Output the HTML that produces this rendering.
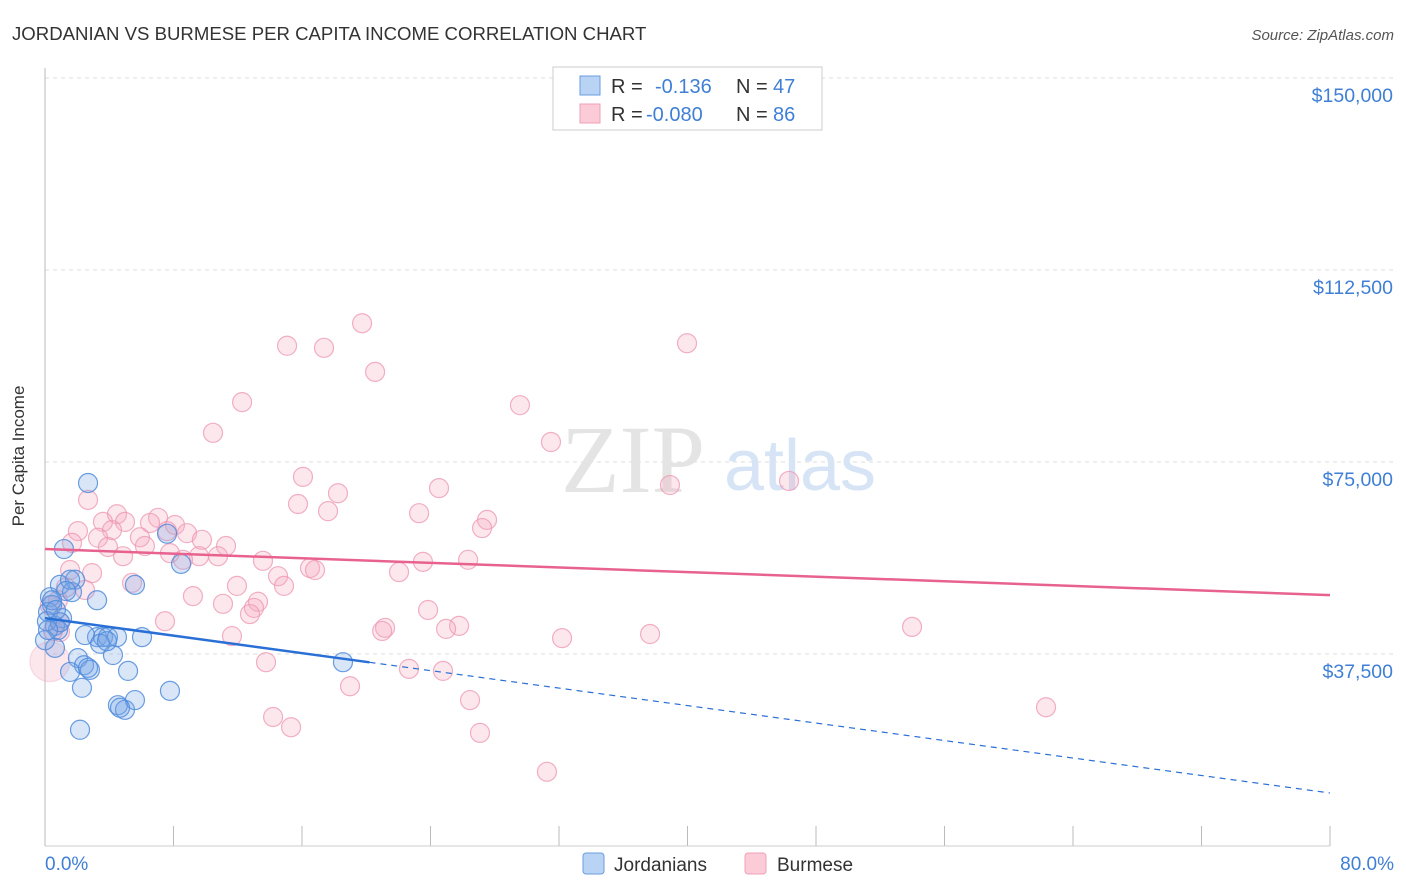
<!DOCTYPE html>
<html><head><meta charset="utf-8"><style>
body{margin:0;background:#fff;font-family:"Liberation Sans",sans-serif;}
svg{display:block}
</style></head><body>
<svg width="1406" height="892" xmlns="http://www.w3.org/2000/svg">
<text x="12" y="40" font-size="18.6" fill="#333">JORDANIAN VS BURMESE PER CAPITA INCOME CORRELATION CHART</text>
<text x="1394" y="40" font-size="15" fill="#555" text-anchor="end" font-style="italic">Source: ZipAtlas.com</text>
<g id="grid"></g>
<text x="633" y="492" font-size="96" fill="#e4e4e4" font-family="Liberation Serif,serif" text-anchor="middle">ZIP</text>
<text x="800" y="490" font-size="72" fill="#d6e4f5" text-anchor="middle">atlas</text>
<line x1="45" y1="68" x2="45" y2="846" stroke="#bbb"/>
<line x1="45" y1="846" x2="1330" y2="846" stroke="#ccc"/>
<g id="points"></g>
<g id="trends"></g>
<text x="24" y="456" font-size="17" fill="#333" text-anchor="middle" transform="rotate(-90 24 456)">Per Capita Income</text>
<text x="45" y="870" font-size="19" fill="#3f7fd6">0.0%</text>
<text x="1394" y="870" font-size="19" fill="#3f7fd6" text-anchor="end">80.0%</text>
<g>
<rect x="553" y="67" width="269" height="63" fill="#fff" stroke="#ccc"/>
<rect x="580" y="76" width="20" height="19" fill="#b9d3f5" stroke="#6a9de0"/>
<rect x="580" y="104" width="20" height="19" fill="#fbcbd8" stroke="#f0a0b8"/>
<text x="611" y="93" font-size="20" fill="#333">R =</text>
<text x="655" y="93" font-size="20" fill="#3f7fd6">-0.136</text>
<text x="736" y="93" font-size="20" fill="#333">N =</text>
<text x="773" y="93" font-size="20" fill="#3f7fd6">47</text>
<text x="611" y="121" font-size="20" fill="#333">R =</text>
<text x="646" y="121" font-size="20" fill="#3f7fd6">-0.080</text>
<text x="736" y="121" font-size="20" fill="#333">N =</text>
<text x="773" y="121" font-size="20" fill="#3f7fd6">86</text>
</g>
<g>
<rect x="583" y="853" width="21" height="21" rx="3" fill="#b9d3f5" stroke="#6a9de0"/>
<text x="614" y="871" font-size="19" fill="#333">Jordanians</text>
<rect x="745" y="853" width="21" height="21" rx="3" fill="#fbcbd8" stroke="#f0a0b8"/>
<text x="777" y="871" font-size="19" fill="#333">Burmese</text>
</g>
</svg>
<script>
const yTicks=[37500,75000,112500,150000];
const yTickLabels=["$37,500","$75,000","$112,500","$150,000"];
const xTicks=[0,8,16,24,32,40,48,56,64,72,80];
const blueX=[2.68,1.18,8.47,7.60,0.93,1.87,5.60,3.24,1.68,0.31,0.44,0.19,1.06,0.62,0.81,3.24,2.49,3.61,3.92,4.48,6.04,4.23,0.62,2.05,2.43,2.80,1.56,5.17,2.30,7.78,4.54,4.98,5.60,2.18,18.55,0.0,0.12,1.56,1.31,3.43,3.86,0.44,0.93,0.19,4.67,2.68,0.68];
const blueY=[70900,58000,55100,61000,51000,52000,51000,48000,49600,48600,47100,45700,44500,43000,42200,40800,41200,40800,40800,40800,40800,37300,38700,36700,35300,34400,34000,34200,30900,30300,27500,26600,28500,22700,35900,40200,43900,52000,49800,39500,40000,48000,43700,42200,27000,34800,46100];
const pinkX=[39.97,19.74,15.07,17.37,20.55,12.27,29.57,10.46,31.50,16.06,46.32,38.91,24.53,2.68,18.24,15.75,17.62,23.29,27.52,27.21,4.48,4.98,3.61,7.04,6.54,8.09,2.05,4.17,3.30,5.91,8.84,9.77,1.68,6.22,11.27,3.92,4.86,7.78,9.59,10.77,8.59,13.57,26.34,23.53,14.51,16.50,16.81,22.04,2.93,1.56,5.42,11.95,14.88,9.21,13.26,11.08,13.01,23.85,12.76,7.47,53.98,25.78,24.97,21.17,20.99,37.67,32.19,11.64,0.93,13.76,22.66,24.78,18.99,26.46,62.32,14.20,15.32,27.08,31.25,0.81,0.93,2.49,7.6,1.3,0.3,0.5];
const pinkY=[98200,102100,97700,97300,92600,86700,86100,80700,78900,72100,71300,70500,69900,67600,68900,66800,65400,65000,63700,62100,64800,63300,63300,64100,63100,62700,61500,61700,60200,60300,61100,59800,59200,58600,58600,58400,56600,57200,56600,56600,55900,55700,55900,55500,52700,54300,53900,53500,53300,53900,51400,50800,50800,48800,47700,47300,46500,46100,45300,43900,42800,43000,42400,42600,42000,41400,40600,41000,41800,35900,34600,34200,31200,28500,27100,25200,23200,22100,14500,48000,43700,50000,61500,50500,47000,42000];
const bigPinkX=[0.3], bigPinkY=[36000];
const blueTrend=[44500,10350], blueSolidEnd=[20.2];
const pinkTrend=[58000,49000];
const NS="http://www.w3.org/2000/svg";
const sx=v=>45+v/80*1285, sy=v=>846-v/37500*192;
const grid=document.getElementById('grid');
yTicks.forEach((t,i)=>{
 const l=document.createElementNS(NS,'line');
 l.setAttribute('x1',45);l.setAttribute('x2',1394);l.setAttribute('y1',sy(t));l.setAttribute('y2',sy(t));
 l.setAttribute('stroke','#ddd');l.setAttribute('stroke-dasharray','4,4');
 
 
 grid.appendChild(l);
 const tx=document.createElementNS(NS,'text');
 tx.setAttribute('x',1393);tx.setAttribute('y',sy(t)+24);tx.setAttribute('text-anchor','end');
 tx.setAttribute('font-size','19.5');tx.setAttribute('fill','#3f7fd6');tx.textContent=yTickLabels[i];
 
 
 grid.appendChild(tx);
});
xTicks.forEach(t=>{
 const l=document.createElementNS(NS,'line');
 l.setAttribute('x1',sx(t));l.setAttribute('x2',sx(t));l.setAttribute('y1',826);l.setAttribute('y2',846);
 l.setAttribute('stroke','#bbb');
 
 
 grid.appendChild(l);
});
const pts=document.getElementById('points');
function dot(x,y,r,fill,stroke,name){
 const c=document.createElementNS(NS,'circle');
 c.setAttribute('cx',sx(x));c.setAttribute('cy',sy(y));c.setAttribute('r',r);
 c.setAttribute('fill',fill);c.setAttribute('stroke',stroke);c.setAttribute('stroke-width','1.2');
 
 
 pts.appendChild(c);
}
bigPinkX.forEach((x,i)=>dot(x,bigPinkY[i],20,'rgba(245,170,190,0.28)','rgba(240,160,185,0.35)','burmese-point'));
pinkX.forEach((x,i)=>dot(x,pinkY[i],9.5,'rgba(245,170,190,0.28)','rgba(238,150,178,0.75)','burmese-point'));
blueX.forEach((x,i)=>dot(x,blueY[i],9.5,'rgba(120,165,230,0.28)','rgba(80,140,220,0.85)','jordanian-point'));
const tr=document.getElementById('trends');
function line(x1,y1,x2,y2,col,dash,name){
 const l=document.createElementNS(NS,'line');
 l.setAttribute('x1',sx(x1));l.setAttribute('y1',sy(y1));l.setAttribute('x2',sx(x2));l.setAttribute('y2',sy(y2));
 l.setAttribute('stroke',col);l.setAttribute('stroke-width',dash?1.2:2.5);
 if(dash)l.setAttribute('stroke-dasharray','6,5');
 
 
 tr.appendChild(l);
}
const bAt=x=>blueTrend[0]+(blueTrend[1]-blueTrend[0])*x/80;
line(0,pinkTrend[0],80,pinkTrend[1],'#e8628f',false,'burmese-trend-line');
line(0,blueTrend[0],blueSolidEnd[0],bAt(blueSolidEnd[0]),'#2a6fd6',false,'jordanian-trend-line');
line(blueSolidEnd[0],bAt(blueSolidEnd[0]),80,blueTrend[1],'#2a6fd6',true,'jordanian-trend-extension');
</script>
</body></html>
